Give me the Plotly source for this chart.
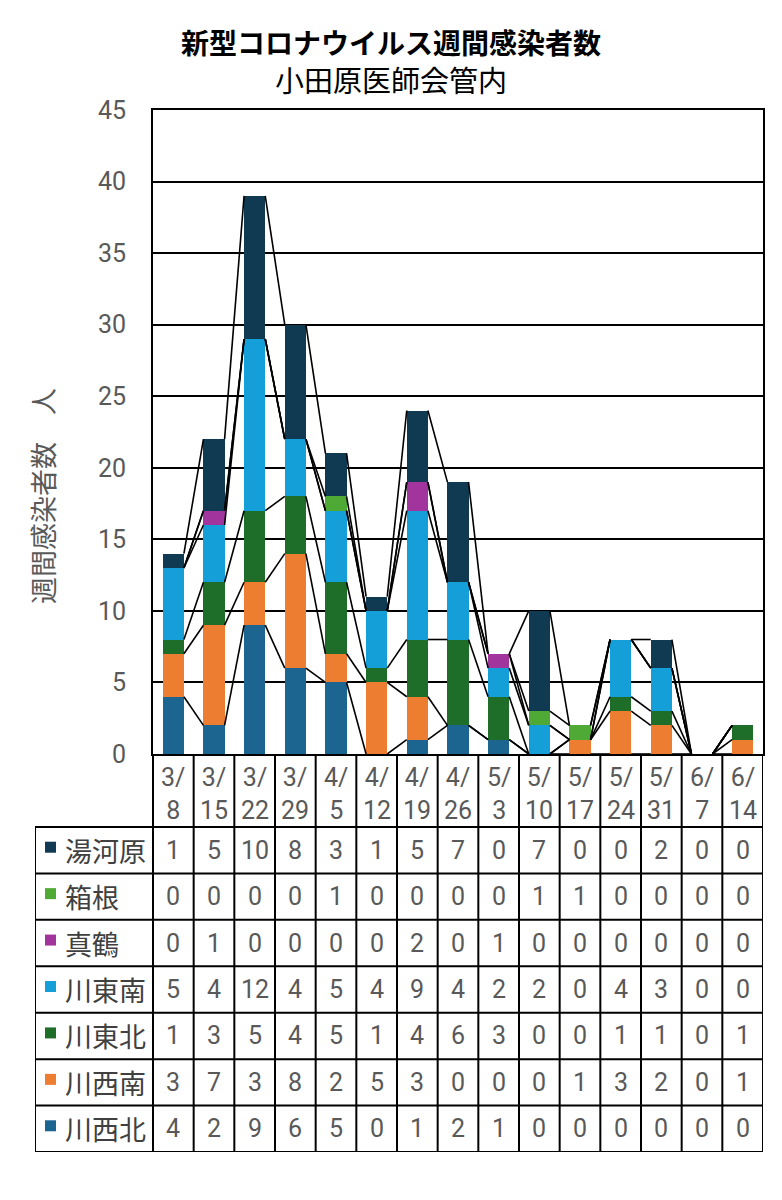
import plotly.graph_objects as go

# ---------------- data ----------------
dates = ["3/8", "3/15", "3/22", "3/29", "4/5", "4/12", "4/19", "4/26",
         "5/3", "5/10", "5/17", "5/24", "5/31", "6/7", "6/14"]

kawanishi_kita = [4, 2, 9, 6, 5, 0, 1, 2, 1, 0, 0, 0, 0, 0, 0]     # 川西北
kawanishi_minami = [3, 7, 3, 8, 2, 5, 3, 0, 0, 0, 1, 3, 2, 0, 1]   # 川西南
kawahigashi_kita = [1, 3, 5, 4, 5, 1, 4, 6, 3, 0, 0, 1, 1, 0, 1]   # 川東北
kawahigashi_minami = [5, 4, 12, 4, 5, 4, 9, 4, 2, 2, 0, 4, 3, 0, 0]  # 川東南
manazuru = [0, 1, 0, 0, 0, 0, 2, 0, 1, 0, 0, 0, 0, 0, 0]           # 真鶴
hakone = [0, 0, 0, 0, 1, 0, 0, 0, 0, 1, 1, 0, 0, 0, 0]             # 箱根
yugawara = [1, 5, 10, 8, 3, 1, 5, 7, 0, 7, 0, 0, 2, 0, 0]          # 湯河原

series_names = ["川西北", "川西南", "川東北", "川東南", "真鶴", "箱根", "湯河原"]
series_values = [kawanishi_kita, kawanishi_minami, kawahigashi_kita,
                 kawahigashi_minami, manazuru, hakone, yugawara]
series_colors = ["#1B6590", "#ED7D31", "#1E6E2A", "#159FD9", "#A2349E", "#4EAA35", "#0F3A52"]

y_ticks = [0, 5, 10, 15, 20, 25, 30, 35, 40, 45]

# ---------------- layout geometry (px) ----------------
W, H = 782, 1200
PLOT_L, PLOT_R, PLOT_T, PLOT_B = 153, 763, 110, 754
TABLE_L, TABLE_HDR_B, TABLE_B = 35, 827, 1152
N = len(dates)
CATW = (PLOT_R - PLOT_L) / N
ROW_H = (TABLE_B - TABLE_HDR_B) / len(series_names)
BAR_W = 0.52

X2_MIN = -0.5 - (PLOT_L - TABLE_L) / CATW
X2_MAX = N - 0.5
Y2_MAX = (TABLE_B - PLOT_B) / ROW_H
HDR_Y0 = (TABLE_B - TABLE_HDR_B) / ROW_H

NUM_FONT = "Roboto, Noto Sans CJK JP"


def x2_px(px):
    return X2_MIN + (px - TABLE_L) / CATW


def y2_px(py):
    return (TABLE_B - py) / ROW_H


fig = go.Figure()
xs = list(range(N))

# stacked bars
for name, vals, col in zip(series_names, series_values, series_colors):
    fig.add_trace(go.Bar(x=xs, y=vals, name=name, width=BAR_W,
                         marker=dict(color=col, line=dict(width=0)),
                         showlegend=False, xaxis="x", yaxis="y"))

# series lines (connect cumulative tops between adjacent bars)
cum = [0] * N
lx, ly = [], []
for vals in series_values:
    cum = [c + v for c, v in zip(cum, vals)]
    for j in range(N - 1):
        lx += [xs[j] + BAR_W / 2, xs[j + 1] - BAR_W / 2, None]
        ly += [cum[j], cum[j + 1], None]
fig.add_trace(go.Scatter(x=lx, y=ly, mode="lines",
                         line=dict(color="black", width=1.6),
                         showlegend=False, hoverinfo="skip", xaxis="x", yaxis="y"))

# ---------------- table ----------------
shapes = []
annotations = []
LW = 2
for k in range(N + 1):
    xb = k - 0.5
    shapes.append(dict(type="line", xref="x2", yref="y2", x0=xb, x1=xb, y0=0, y1=Y2_MAX,
                       line=dict(color="black", width=LW)))
shapes.append(dict(type="line", xref="x2", yref="y2", x0=X2_MIN, x1=X2_MIN, y0=0, y1=HDR_Y0,
                   line=dict(color="black", width=LW)))
for r in range(len(series_names) + 1):
    shapes.append(dict(type="line", xref="x2", yref="y2", x0=X2_MIN, x1=X2_MAX, y0=r, y1=r,
                       line=dict(color="black", width=LW)))

# date header labels (wrapped after the slash)
for j, d in enumerate(dates):
    m, dd = d.split("/")
    annotations.append(dict(xref="x2", yref="y2", x=j, y=y2_px(794),
                            text=m + "/<br>" + dd, xanchor="center", yanchor="middle",
                            showarrow=False, font=dict(family=NUM_FONT, size=25, color="#595959")))

# row labels, legend squares and values
for k, (name, vals, col) in enumerate(zip(series_names, series_values, series_colors)):
    yc = k + 0.5
    annotations.append(dict(xref="x2", yref="y2", x=x2_px(63), y=yc, text=name,
                            xanchor="left", yanchor="middle", showarrow=False,
                            font=dict(size=27, color="#404040")))
    ysq = yc + 3 / ROW_H
    shapes.append(dict(type="rect", xref="x2", yref="y2",
                       x0=x2_px(45), x1=x2_px(56), y0=ysq - 5.5 / ROW_H, y1=ysq + 5.5 / ROW_H,
                       fillcolor=col, line=dict(width=0)))
    for j, v in enumerate(vals):
        annotations.append(dict(xref="x2", yref="y2", x=j, y=yc, text=str(v),
                                xanchor="center", yanchor="middle",
                                showarrow=False, font=dict(family=NUM_FONT, size=25, color="#595959")))

# titles
annotations.append(dict(xref="paper", yref="paper", x=391 / W, y=1 - 42 / H,
                        xanchor="center", yanchor="middle",
                        text="<b>新型コロナウイルス週間感染者数</b>", showarrow=False,
                        font=dict(size=28, color="black")))
annotations.append(dict(xref="paper", yref="paper", x=391 / W, y=1 - 79 / H,
                        xanchor="center", yanchor="middle",
                        text="小田原医師会管内", showarrow=False,
                        font=dict(size=29, color="black")))
annotations.append(dict(xref="paper", yref="paper", x=42 / W, y=1 - 496 / H,
                        xanchor="center", yanchor="middle",
                        text="週間感染者数　人", textangle=-90, showarrow=False,
                        font=dict(size=27, color="#595959")))

fig.update_layout(
    width=W, height=H, autosize=False,
    margin=dict(l=0, r=0, t=0, b=0, pad=0, autoexpand=False),
    paper_bgcolor="white", plot_bgcolor="white",
    barmode="stack", bargap=0,
    font=dict(family="Noto Sans CJK JP", color="#595959"),
    xaxis=dict(domain=[PLOT_L / W, PLOT_R / W], range=[-0.5, N - 0.5],
               showticklabels=False, showgrid=False, zeroline=False,
               showline=True, linecolor="black", linewidth=2, mirror=True,
               automargin=False, fixedrange=True),
    yaxis=dict(domain=[1 - PLOT_B / H, 1 - PLOT_T / H], range=[0, 45],
               tickvals=y_ticks, ticks="", ticklabelstandoff=20,
               tickfont=dict(family=NUM_FONT, size=25, color="#595959"),
               showgrid=True, gridcolor="black", gridwidth=2, zeroline=False,
               showline=True, linecolor="black", linewidth=2, mirror=True,
               automargin=False, fixedrange=True),
    xaxis2=dict(domain=[TABLE_L / W, PLOT_R / W], range=[X2_MIN, X2_MAX],
                visible=False, anchor="y2", automargin=False, fixedrange=True),
    yaxis2=dict(domain=[1 - TABLE_B / H, 1 - PLOT_B / H], range=[0, Y2_MAX],
                visible=False, anchor="x2", automargin=False, fixedrange=True),
    shapes=shapes, annotations=annotations,
)

fig.write_html("out.html", config={"responsive": False, "displayModeBar": False})
